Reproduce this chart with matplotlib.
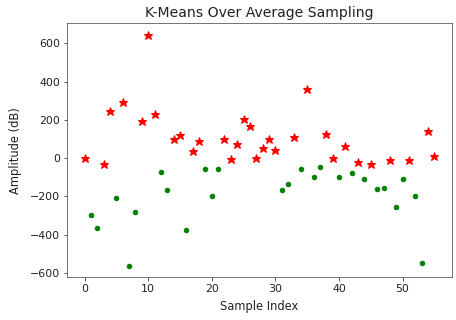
import matplotlib
matplotlib.use("Agg")
import matplotlib.pyplot as plt

# samples picked by k-means (red stars)
kmeans_idx = [0, 3, 4, 6, 9, 10, 11, 14, 15, 17, 18, 22, 23, 24, 25, 26, 27, 28,
              29, 30, 33, 35, 38, 39, 41, 43, 45, 48, 51, 54, 55]
kmeans_amp = [0, -30, 249, 292, 193, 647, 230, 101, 120, 39, 87, 101, -5, 74, 207,
              168, 2, 51, 101, 44, 108, 360, 125, 2, 62, -19, -30, -12, -12, 143, 9]

# average sampling (green dots)
avg_idx = [1, 2, 5, 7, 8, 12, 13, 16, 19, 20, 21, 31, 32, 34, 36, 37, 40, 42, 44,
           46, 47, 49, 50, 52, 53]
avg_amp = [-297, -366, -210, -563, -284, -74, -168, -378, -55, -198, -55, -168,
           -136, -55, -99, -48, -99, -80, -111, -161, -154, -254, -111, -198, -551]

fig = plt.figure(figsize=(456 / 72, 320 / 72), dpi=72)
ax = fig.add_axes([0.147, 0.134, 0.844, 0.794])
ax.plot(kmeans_idx, kmeans_amp, 'r*', markersize=9)
ax.plot(avg_idx, avg_amp, 'go', markersize=4.5)
ax.set_xlim(-2.75, 57.75)
ax.set_ylim(-623, 707)
ax.tick_params(labelsize=11, colors='#333333', labelcolor='#222222')
for s in ax.spines.values():
    s.set_color('#555555')
ax.set_xlabel('Sample Index', fontsize=11.5, color='#222222', labelpad=6)
ax.set_ylabel('Amplitude (dB)', fontsize=11.5, color='#222222', labelpad=8)
ax.set_title('K-Means Over Average Sampling', fontsize=14, color='#222222')
fig.savefig('out.png', dpi=72)
